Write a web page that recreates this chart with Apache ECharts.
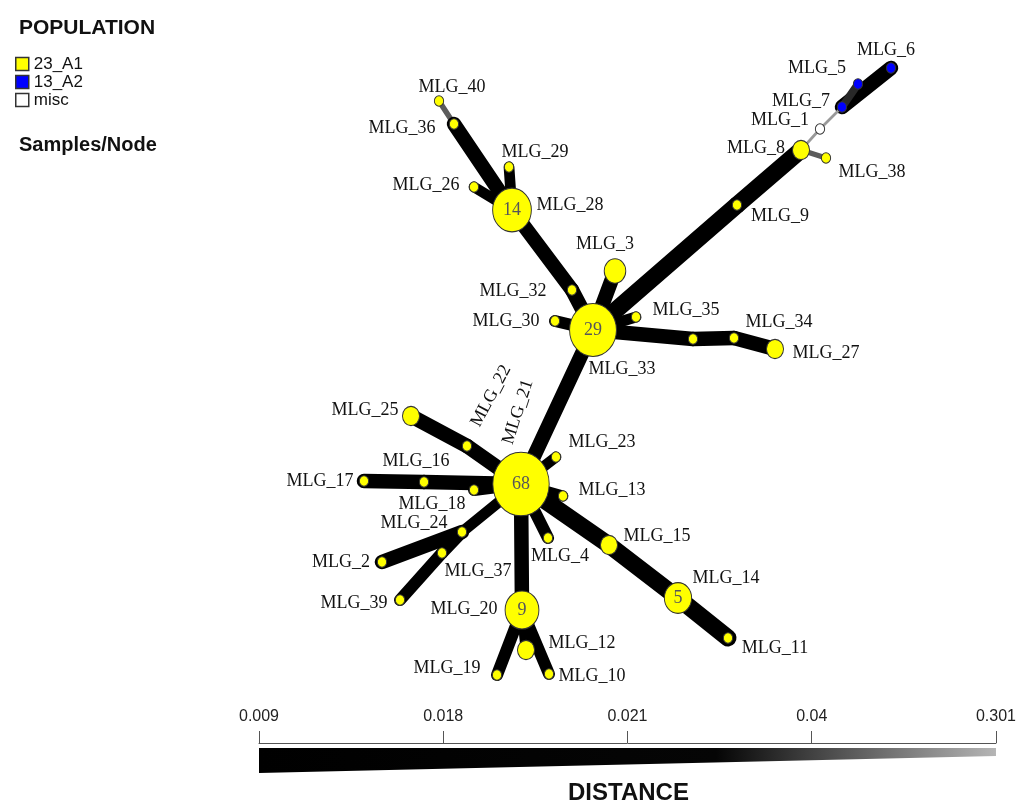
<!DOCTYPE html>
<html>
<head>
<meta charset="utf-8">
<script src="https://cdn.jsdelivr.net/npm/echarts@6/dist/echarts.min.js"></script>
<style>
  html, body { margin: 0; background: #fff; }
  #chart { width: 1019px; height: 802px; }
</style>
</head>
<body>
<div id="chart"></div>
<script>
// nodes (MLG), position in plot units
var nodeNames = ["MLG_1", "MLG_2", "MLG_3", "MLG_4", "MLG_5", "MLG_6", "MLG_7", "MLG_8", "MLG_9", "MLG_10",
  "MLG_11", "MLG_12", "MLG_13", "MLG_14", "MLG_15", "MLG_16", "MLG_17", "MLG_18", "MLG_19", "MLG_20",
  "MLG_21", "MLG_22", "MLG_23", "MLG_24", "MLG_25", "MLG_26", "MLG_27", "MLG_28", "MLG_29", "MLG_30",
  "MLG_31", "MLG_32", "MLG_33", "MLG_34", "MLG_35", "MLG_36", "MLG_37", "MLG_38", "MLG_39", "MLG_40"];
var nodeX = [820, 382, 615, 548, 858, 891, 842, 801, 737, 549,
  728, 526, 563, 678, 609, 424, 364, 474, 497, 522,
  521, 467, 556, 462, 411, 474, 775, 512, 509, 555,
  693, 572, 593, 734, 636, 454, 442, 826, 400, 439];
var nodeY = [129, 562, 271, 538, 84, 68, 107, 150, 205, 674,
  638, 650, 496, 598, 545, 482, 481, 490, 675, 610,
  484, 446, 457, 532, 416, 187, 349, 210, 167, 321,
  339, 290, 330, 338, 317, 124, 553, 158, 600, 101];
var nodeCount = [1, 1, 3, 1, 1, 1, 1, 2, 1, 1,
  1, 2, 1, 5, 2, 1, 1, 1, 1, 9,
  68, 1, 1, 1, 2, 1, 2, 14, 1, 1,
  1, 1, 29, 1, 1, 1, 1, 1, 1, 1];
var nodePop = ["misc", "23_A1", "23_A1", "23_A1", "13_A2", "13_A2", "13_A2", "23_A1", "23_A1", "23_A1",
  "23_A1", "23_A1", "23_A1", "23_A1", "23_A1", "23_A1", "23_A1", "23_A1", "23_A1", "23_A1",
  "23_A1", "23_A1", "23_A1", "23_A1", "23_A1", "23_A1", "23_A1", "23_A1", "23_A1", "23_A1",
  "23_A1", "23_A1", "23_A1", "23_A1", "23_A1", "23_A1", "23_A1", "23_A1", "23_A1", "23_A1"];
var popNames = ["23_A1", "13_A2", "misc"];

// minimum spanning network edges
var edgeFrom = ["MLG_7", "MLG_7", "MLG_7", "MLG_1", "MLG_8", "MLG_8", "MLG_9", "MLG_40", "MLG_36", "MLG_29",
  "MLG_26", "MLG_28", "MLG_32", "MLG_3", "MLG_30", "MLG_35", "MLG_33", "MLG_31", "MLG_34", "MLG_33",
  "MLG_21", "MLG_22", "MLG_21", "MLG_16", "MLG_21", "MLG_21", "MLG_21", "MLG_21", "MLG_24", "MLG_24",
  "MLG_37", "MLG_21", "MLG_21", "MLG_15", "MLG_14", "MLG_21", "MLG_20", "MLG_20", "MLG_20"];
var edgeTo = ["MLG_6", "MLG_5", "MLG_1", "MLG_8", "MLG_38", "MLG_9", "MLG_33", "MLG_36", "MLG_28", "MLG_28",
  "MLG_28", "MLG_32", "MLG_33", "MLG_33", "MLG_33", "MLG_33", "MLG_31", "MLG_34", "MLG_27", "MLG_21",
  "MLG_22", "MLG_25", "MLG_16", "MLG_17", "MLG_18", "MLG_23", "MLG_13", "MLG_24", "MLG_2", "MLG_37",
  "MLG_39", "MLG_4", "MLG_15", "MLG_14", "MLG_11", "MLG_20", "MLG_19", "MLG_10", "MLG_12"];
var edgeDist = [0.015, 0.03, 0.25, 0.25, 0.06, 0.009, 0.009, 0.06, 0.015, 0.02,
  0.02, 0.015, 0.015, 0.015, 0.019, 0.02, 0.015, 0.015, 0.015, 0.015,
  0.015, 0.015, 0.015, 0.015, 0.019, 0.02, 0.02, 0.02, 0.015, 0.019,
  0.019, 0.019, 0.009, 0.009, 0.009, 0.015, 0.019, 0.019, 0.02];

var distTicks = [0.009, 0.018, 0.021, 0.04, 0.301];

var popColors = { "23_A1": "#ffff00", "13_A2": "#0000ff", "misc": "#ffffff" };
var sans = "'Liberation Sans', Arial, sans-serif";
var serif = "'Liberation Serif', 'Times New Roman', serif";

// where each name label sits, relative to its node [dx, dy]
var labelAt = {
  MLG_1: [-40, -9], MLG_2: [-41, 0], MLG_3: [-10, -27], MLG_4: [12, 18], MLG_5: [-41, -16],
  MLG_6: [-5, -18], MLG_7: [-41, -6], MLG_8: [-45, -2], MLG_9: [43, 11], MLG_10: [43, 2],
  MLG_11: [47, 10], MLG_12: [56, -7], MLG_13: [49, -6], MLG_14: [48, -20], MLG_15: [48, -9],
  MLG_16: [-8, -21], MLG_17: [-44, 0], MLG_18: [-42, 14], MLG_19: [-50, -7], MLG_20: [-58, -1],
  MLG_21: [-3, -72], MLG_22: [24, -50], MLG_23: [46, -15], MLG_24: [-48, -9], MLG_25: [-46, -6],
  MLG_26: [-48, -2], MLG_27: [51, 4], MLG_28: [58, -5], MLG_29: [26, -15], MLG_30: [-49, 0],
  MLG_32: [-59, 1], MLG_33: [29, 39], MLG_34: [45, -16], MLG_35: [50, -7], MLG_36: [-52, 4],
  MLG_37: [36, 18], MLG_38: [46, 14], MLG_39: [-46, 3], MLG_40: [13, -14]
};
var labelRotate = { MLG_21: 72, MLG_22: 62 };

// distance -> position on the scale bar (0..1)
function distPos(d) {
  for (var i = 0; i < distTicks.length - 1; i++) {
    if (d <= distTicks[i + 1]) {
      return (i + (d - distTicks[i]) / (distTicks[i + 1] - distTicks[i])) / (distTicks.length - 1);
    }
  }
  return 1;
}
function edgeWidth(d) {
  return 17 - 15 * distPos(d);
}
function edgeColor(d) {
  var t = distPos(d);
  var g = t < 0.5 ? 0 : Math.round((t - 0.5) / 0.5 * 170);
  return "rgb(" + g + "," + g + "," + g + ")";
}
function nodeSize(n) {
  var s = 10 + 12 * Math.log(n);
  return [s * 0.93, s * 1.05];
}
// label offset is rotated with the label, so undo the rotation
function labelOffset(name) {
  var o = labelAt[name];
  var r = (labelRotate[name] || 0) * Math.PI / 180;
  var c = Math.cos(r), s = Math.sin(r);
  return [o[0] * c - o[1] * s, o[0] * s + o[1] * c];
}

var nodes = nodeNames.map(function (name, i) {
  var lab = labelAt[name]
    ? { show: true, offset: labelOffset(name), rotate: labelRotate[name] || 0 }
    : { show: false };
  return {
    name: name,
    value: [nodeX[i], nodeY[i]],
    category: popNames.indexOf(nodePop[i]),
    symbolSize: nodeSize(nodeCount[i]),
    label: lab
  };
});

var links = edgeFrom.map(function (f, i) {
  return {
    source: f,
    target: edgeTo[i],
    lineStyle: { width: edgeWidth(edgeDist[i]), color: edgeColor(edgeDist[i]) }
  };
});

var countData = [];
nodeNames.forEach(function (name, i) {
  if (nodeCount[i] >= 5) {
    countData.push({ value: [nodeX[i], nodeY[i]], symbolSize: nodeSize(nodeCount[i]), n: nodeCount[i] });
  }
});

var option = {
  animation: false,
  title: [
    {
      text: "POPULATION", left: 14, top: 13,
      textStyle: { fontFamily: sans, fontWeight: "bold", fontSize: 21, color: "#111" }
    },
    {
      text: "Samples/Node", left: 14, top: 130,
      textStyle: { fontFamily: sans, fontWeight: "bold", fontSize: 20, color: "#111" }
    },
    {
      text: "DISTANCE", left: 563, top: 776,
      textStyle: { fontFamily: sans, fontWeight: "bold", fontSize: 24, color: "#111" }
    }
  ],
  legend: {
    data: popNames,
    orient: "vertical",
    left: 10,
    top: 50,
    icon: "rect",
    itemWidth: 13,
    itemHeight: 13,
    itemGap: 0,
    selectedMode: false,
    itemStyle: { borderColor: "#333", borderWidth: 1.5 },
    textStyle: { fontFamily: sans, fontSize: 17, lineHeight: 18, color: "#111" }
  },
  grid: [
    { left: 0, top: 0, width: 1019, height: 802 },
    { left: 259, top: 743, width: 739, height: 32 }
  ],
  xAxis: [
    { type: "value", min: 0, max: 1019, show: false },
    {
      type: "value", gridIndex: 1, min: 0, max: 4, interval: 1, position: "top",
      axisLine: { lineStyle: { color: "#555", width: 1 } },
      axisTick: { length: 12, lineStyle: { color: "#555", width: 1 } },
      splitLine: { show: false },
      axisLabel: {
        margin: 18, fontFamily: sans, fontSize: 16, color: "#222",
        formatter: function (v) { return distTicks[v]; }
      }
    }
  ],
  yAxis: [
    { type: "value", min: 0, max: 802, inverse: true, show: false },
    { type: "value", gridIndex: 1, min: 0, max: 32, inverse: true, show: false }
  ],
  series: [
    {
      type: "graph",
      coordinateSystem: "cartesian2d",
      xAxisIndex: 0,
      yAxisIndex: 0,
      categories: popNames.map(function (p) {
        return { name: p, itemStyle: { color: popColors[p] } };
      }),
      data: nodes,
      links: links,
      symbol: "circle",
      itemStyle: { borderColor: "#333", borderWidth: 1 },
      lineStyle: { opacity: 1, curveness: 0, cap: "round" },
      label: {
        show: true, position: "inside",
        fontFamily: serif, fontSize: 18, color: "#111"
      },
      emphasis: { disabled: true },
      z: 2
    },
    {
      type: "scatter",
      xAxisIndex: 0,
      yAxisIndex: 0,
      data: countData,
      itemStyle: { color: "rgba(0,0,0,0)" },
      label: {
        show: true, position: "inside",
        formatter: function (p) { return p.data.n; },
        fontFamily: serif, fontSize: 18, color: "#2b2b70"
      },
      silent: true,
      z: 3
    },
    {
      type: "custom",
      xAxisIndex: 1,
      yAxisIndex: 1,
      data: [[0, 0]],
      silent: true,
      renderItem: function (params, api) {
        var pts = [api.coord([0, 5]), api.coord([4, 5]), api.coord([4, 13]), api.coord([0, 30])];
        return {
          type: "polygon",
          shape: { points: pts },
          style: {
            fill: new echarts.graphic.LinearGradient(0, 0, 1, 0, [
              { offset: 0, color: "#000" },
              { offset: 0.62, color: "#050505" },
              { offset: 1, color: "#b5b5b5" }
            ])
          }
        };
      }
    }
  ]
};

var chart = echarts.init(document.getElementById("chart"));
chart.setOption(option);
</script>
</body>
</html>
